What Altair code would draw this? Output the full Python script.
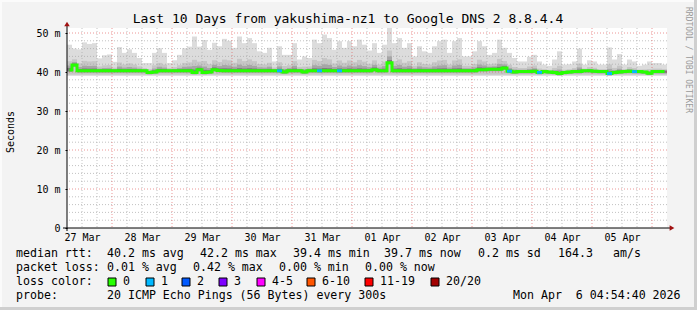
import altair as alt
import pandas as pd

# ---------------- data ----------------
title_text = "Last 10 Days from yakushima-nz1 to Google DNS 2 8.8.4.4"
y_axis_title = "Seconds"
credit_text = "RRDTOOL / TOBI OETIKER"
day_labels = ["27 Mar", "28 Mar", "29 Mar", "30 Mar", "31 Mar",
              "01 Apr", "02 Apr", "03 Apr", "04 Apr", "05 Apr"]
y_tick_values = [0, 10, 20, 30, 40, 50]

# 2-hour columns starting 27 Mar 06:00 (hours since 27 Mar 00:00)
smoke_top = [
    47.0, 46.0, 45.8, 47.6, 47.2, 47.4, 43.5, 44.3, 44.5, 42.6,
    46.4, 44.9, 45.8, 44.9, 43.6, 42.3, 42.3, 44.9, 46.1, 44.9,
    42.3, 43.0, 44.4, 46.1, 46.5, 49.1, 46.5, 48.2, 45.7, 47.5,
    46.6, 48.5, 48.0, 46.2, 49.1, 47.4, 48.7, 47.4, 45.3, 44.9,
    46.2, 42.7, 46.6, 44.4, 44.4, 47.4, 43.2, 44.0, 43.6, 48.3,
    47.4, 49.6, 48.7, 45.7, 47.9, 46.2, 47.9, 46.6, 48.3, 47.0,
    45.5, 47.4, 44.9, 47.0, 51.3, 47.4, 48.7, 46.2, 47.4, 44.0,
    46.6, 45.3, 44.9, 46.6, 47.9, 48.3, 44.9, 47.9, 48.7, 44.0,
    44.0, 45.3, 47.9, 46.6, 44.4, 44.9, 48.3, 46.2, 44.9, 43.6,
    42.7, 42.7, 43.9, 44.4, 42.7, 41.9, 41.6, 43.2, 45.3, 41.9,
    42.0, 42.7, 46.0, 41.9, 43.0, 42.7, 41.9, 41.9, 46.3, 43.2,
    44.6, 41.9, 43.2, 42.7, 41.6, 41.9, 42.7, 42.3, 42.3, 41.9,
]
median_rtt = [
    40.5, 41.8, 40.3, 40.3, 40.3, 40.3, 40.3, 40.3, 40.3, 40.3,
    40.3, 40.3, 40.3, 40.3, 40.3, 40.3, 39.9, 40.0, 40.3, 40.3,
    40.3, 40.3, 40.3, 40.3, 40.3, 39.9, 40.6, 39.9, 40.0, 40.6,
    40.4, 40.3, 40.3, 40.3, 40.3, 40.3, 40.3, 40.3, 40.3, 40.3,
    40.3, 40.3, 40.3, 40.0, 40.3, 40.3, 40.3, 40.0, 40.3, 40.3,
    40.3, 40.3, 40.3, 40.3, 40.3, 40.3, 40.3, 40.3, 40.3, 40.3,
    40.3, 40.6, 40.3, 40.3, 42.4, 40.3, 40.3, 40.3, 40.3, 40.3,
    40.3, 40.3, 40.3, 40.3, 40.3, 40.3, 40.3, 40.3, 40.3, 40.3,
    40.3, 40.3, 40.6, 40.6, 40.7, 40.7, 40.7, 41.0, 40.2, 40.0,
    40.1, 40.1, 40.1, 40.2, 39.9, 40.1, 40.0, 39.9, 39.6, 39.9,
    40.0, 40.1, 40.1, 40.3, 40.3, 40.2, 40.1, 40.1, 39.6, 39.9,
    40.0, 40.1, 40.2, 40.1, 40.1, 40.0, 39.7, 40.1, 40.1, 40.1,
]
loss_one_cols = [42, 50, 54, 88, 94, 108, 113]
smoke_floor = 39.0

rtt_head = "median rtt:"
rtt_stats = ["40.2 ms avg", "42.2 ms max", "39.4 ms min", "39.7 ms now",
             "0.2 ms sd", "164.3", "am/s"]
loss_head = "packet loss:"
loss_stats = ["0.01 % avg", "0.42 % max", "0.00 % min", "0.00 % now"]
color_head = "loss color:"
loss_color_labels = ["0", "1", "2", "3", "4-5", "6-10", "11-19", "20/20"]
loss_color_values = ["#26ff00", "#00b8ff", "#0059ff", "#7e00ff",
                     "#ff00ff", "#ff5500", "#ff0000", "#a10000"]
probe_head = "probe:"
probe_text = "20 ICMP Echo Pings (56 Bytes) every 300s"
timestamp_text = "Mon Apr  6 04:54:40 2026"

# ---------------- layout ----------------
PL, PT, PW, PH = 67, 28, 600, 200
Y_TOP = 200 / 3.9
X0, X1 = 6, 246
MONO = "DejaVu Sans Mono"
rtt_x = [107, 200, 293, 384, 478, 558, 613]
loss_x = [107, 193, 279, 365]
box_x = [108, 146, 182, 219, 257, 307, 365, 431]
row_y = [254, 268, 282, 296]


def nb(s):
    return s.replace(" ", "\u00a0")


N = len(smoke_top)
cols = pd.DataFrame({"h0": [X0 + 2 * i for i in range(N)],
                     "top": smoke_top, "med": median_rtt})
cols["h1"] = cols["h0"] + 2
cols["hc"] = cols["h0"] + 1
cols["floor"] = smoke_floor
span = cols["top"] - cols["med"]
cols["b1lo"] = smoke_floor + 0.3
cols["b1hi"] = cols["med"] + 0.35 * span
cols["b2lo"] = cols["med"] - 0.5
cols["b2hi"] = cols["med"] + 0.18 * span
cols["b3lo"] = cols["med"] - 0.3
cols["b3hi"] = cols["med"] + 0.06 * span + 0.15
cols["mlo"] = cols["med"] - 0.36
cols["mhi"] = cols["med"] + 0.36
cols["loss"] = [1 if i in loss_one_cols else 0 for i in range(N)]

xs = alt.Scale(domain=[X0, X1], nice=False, zero=False)
ys = alt.Scale(domain=[0, Y_TOP], nice=False, zero=False)

label_arr = "[" + ",".join("'" + d + "'" for d in day_labels) + "]"
x_axis = alt.Axis(values=[12 + 24 * k for k in range(len(day_labels))],
                  labelExpr=label_arr + "[floor(datum.value/24)]",
                  title=None, grid=False, ticks=False, domain=False,
                  labelFont=MONO, labelFontSize=10, labelColor="black",
                  labelPadding=4, labelFlush=False, labelOverlap=False)
y_axis = alt.Axis(values=y_tick_values,
                  labelExpr="datum.value == 0 ? '0\u00a0\u00a0' : datum.value + '\u00a0m'",
                  title=None, grid=False, ticks=True, tickSize=2, tickColor="black",
                  domain=False, labelFont=MONO, labelFontSize=10, labelColor="black",
                  labelPadding=5, labelFlush=False, labelOverlap=False)


def X(field):
    return alt.X(field, scale=xs, axis=x_axis)


def Y(field):
    return alt.Y(field, scale=ys, axis=y_axis)


base = alt.Chart(cols)


def band(lo, hi, color):
    return base.mark_rect(color=color, strokeWidth=0).encode(
        x=X("h0:Q"), x2="h1:Q", y=Y(lo + ":Q"), y2=hi + ":Q")


smoke = [band("floor", "top", "#dcdcdc"),
         band("b1lo", "b1hi", "#c6c6c6"),
         band("b2lo", "b2hi", "#a6a6a6"),
         band("b3lo", "b3hi", "#7a7a7a")]

hminor = [v for v in range(2, 52, 2) if v % 10]
hmajor = [10, 20, 30, 40, 50]
vminor = [h for h in range(12, X1, 6) if h % 24]
vmajor = list(range(24, X1, 24))


def hgrid(vals, color, op):
    return alt.Chart(pd.DataFrame({"v": vals})).mark_rule(
        color=color, strokeDash=[1, 2], strokeWidth=1, opacity=op).encode(y=Y("v:Q"))


def vgrid(vals, color, op):
    return alt.Chart(pd.DataFrame({"v": vals})).mark_rule(
        color=color, strokeDash=[1, 2], strokeWidth=1, opacity=op).encode(x=X("v:Q"))


grids = [hgrid(hminor, "#a8a8a8", 0.7), vgrid(vminor, "#a8a8a8", 0.7),
         hgrid(hmajor, "#e05050", 0.6), vgrid(vmajor, "#e05050", 0.6)]

med_line = base.mark_line(color="#26ff00", strokeWidth=3, interpolate="step").encode(
    x=X("hc:Q"), y=Y("med:Q"))
loss_marks = base.transform_filter(alt.datum.loss == 1).mark_rect(color="#00b8ff").encode(
    x=X("h0:Q"), x2="h1:Q", y=Y("mlo:Q"), y2="mhi:Q")

one = pd.DataFrame({"a": [0]})
yaxis_line = alt.Chart(one).mark_rule(color="black", strokeWidth=1).encode(
    x=alt.value(0), y=alt.value(-3), y2=alt.value(PH + 3))
xaxis_line = alt.Chart(one).mark_rule(color="black", strokeWidth=1).encode(
    x=alt.value(-4), x2=alt.value(PW + 4), y=alt.value(PH))
arrow_up = alt.Chart(one).mark_point(shape="triangle-up", filled=True, color="#a01010",
                                     size=30, opacity=1).encode(x=alt.value(0), y=alt.value(-4))
arrow_right = alt.Chart(one).mark_point(shape="triangle-right", filled=True, color="#a01010",
                                        size=30, opacity=1).encode(x=alt.value(PW + 5), y=alt.value(PH))

# texts
rows = []
rows.append((rtt_head, 16, row_y[0]))
rows += [(t, x, row_y[0]) for t, x in zip(rtt_stats, rtt_x)]
rows.append((loss_head, 16, row_y[1]))
rows += [(t, x, row_y[1]) for t, x in zip(loss_stats, loss_x)]
rows.append((color_head, 16, row_y[2]))
rows += [(t, x + 15, row_y[2]) for t, x in zip(loss_color_labels, box_x)]
rows.append((probe_head, 16, row_y[3]))
rows.append((probe_text, 107, row_y[3]))
rows.append((timestamp_text, 513, row_y[3]))
tdf = pd.DataFrame({"txt": [nb(r[0]) for r in rows],
                    "px": [r[1] - PL for r in rows],
                    "py": [r[2] - PT for r in rows]})
legend_text = alt.Chart(tdf).mark_text(font=MONO, fontSize=11.6, align="left",
                                       baseline="middle", color="black").encode(
    x=alt.X("px:Q", scale=None), y=alt.Y("py:Q", scale=None), text="txt:N")

bdf = pd.DataFrame({"bx": [b - PL for b in box_x], "bx2": [b - PL + 8 for b in box_x],
                    "by": [278 - PT] * len(box_x), "by2": [286 - PT] * len(box_x),
                    "c": loss_color_values})
boxes = alt.Chart(bdf).mark_rect(stroke="black", strokeWidth=1).encode(
    x=alt.X("bx:Q", scale=None), x2="bx2:Q", y=alt.Y("by:Q", scale=None), y2="by2:Q",
    color=alt.Color("c:N", scale=None))

title_mark = alt.Chart(pd.DataFrame({"t": [title_text]})).mark_text(
    font=MONO, fontSize=13, align="center", baseline="middle", color="black").encode(
    x=alt.value(348 - PL), y=alt.value(18.5 - PT), text="t:N")
ytitle_mark = alt.Chart(pd.DataFrame({"t": [y_axis_title]})).mark_text(
    font=MONO, fontSize=10, align="center", baseline="middle", angle=270, color="black").encode(
    x=alt.value(10.5 - PL), y=alt.value(132 - PT), text="t:N")
credit_mark = alt.Chart(pd.DataFrame({"t": [nb(credit_text)]})).mark_text(
    font=MONO, fontSize=8, align="center", baseline="middle", angle=90, color="#9a9a9a").encode(
    x=alt.value(687.5 - PL), y=alt.value(60 - PT), text="t:N")

# frame around the canvas
frame = pd.DataFrame({"x": [-PL, -PL, 694 - PL, -PL], "x2": [697 - PL, -PL + 2, 697 - PL, 697 - PL],
                      "y": [-PT, -PT, -PT, 307 - PT], "y2": [-PT + 2, 310 - PT, 310 - PT, 310 - PT],
                      "c": ["#fbfbfb", "#fbfbfb", "#cfcfcf", "#cfcfcf"]})
frame_marks = alt.Chart(frame).mark_rect(strokeWidth=0).encode(
    x=alt.X("x:Q", scale=None), x2="x2:Q", y=alt.Y("y:Q", scale=None), y2="y2:Q",
    color=alt.Color("c:N", scale=None))

chart = alt.layer(
    *smoke, *grids, med_line, loss_marks, yaxis_line, xaxis_line, arrow_up, arrow_right,
    legend_text, boxes, title_mark, ytitle_mark, credit_mark, frame_marks
).properties(
    width=PW, height=PH,
    autosize=alt.AutoSizeParams(type="none"),
    padding={"left": PL, "top": PT, "right": 697 - PL - PW, "bottom": 310 - PT - PH},
    background="#f3f3f3",
).configure_view(fill="white", stroke=None)

chart.save("out.html", embed_options={"renderer": "svg", "actions": False})
